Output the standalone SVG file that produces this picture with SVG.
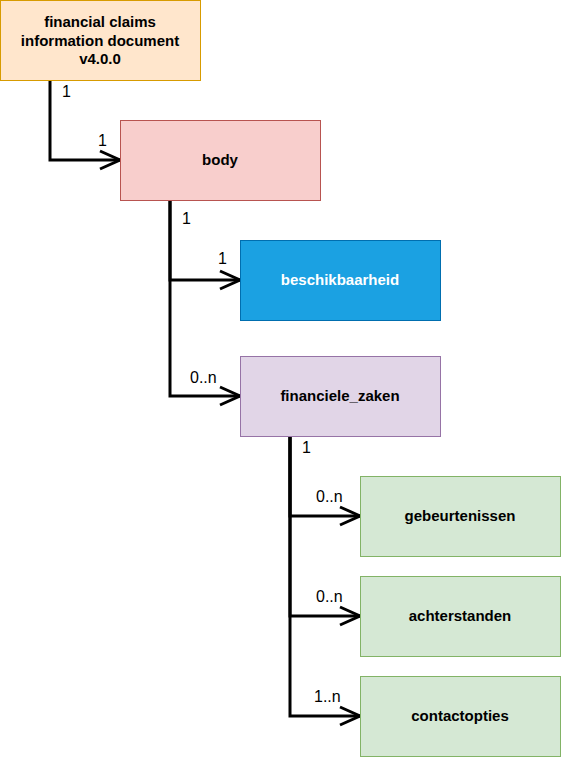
<svg xmlns="http://www.w3.org/2000/svg" width="562" height="758" viewBox="0 0 562 758">
<defs>
<marker id="open" viewBox="-24 -12 28 24" refX="0" refY="0" markerWidth="28" markerHeight="24" markerUnits="userSpaceOnUse" orient="auto" overflow="visible">
<path d="M-20,-9 L0,0 L-20,9" fill="none" stroke="#000" stroke-width="3"/>
</marker>
</defs>
<style>
.node text{font-family:"Liberation Sans",Arial,Helvetica,sans-serif;font-weight:bold;font-size:15px;text-anchor:middle}
.lbl{font-family:"Liberation Sans",Arial,Helvetica,sans-serif;font-size:16px;fill:#000}
.edge{fill:none;stroke:#000;stroke-width:3;marker-end:url(#open)}
</style>
<rect width="562" height="758" fill="#fff"/>
<g id="connectors">
<path class="edge" d="M50,80 V160 H120"/>
<path class="edge" d="M170,200 V280 H240"/>
<path class="edge" d="M170,200 V396 H240"/>
<path class="edge" d="M290,436 V516 H360"/>
<path class="edge" d="M290,436 V616 H360"/>
<path class="edge" d="M290,436 V716 H360"/>
<text class="lbl" x="62" y="97">1</text>
<text class="lbl" x="98" y="146">1</text>
<text class="lbl" x="182" y="224">1</text>
<text class="lbl" x="218" y="264">1</text>
<text class="lbl" x="190" y="383">0..n</text>
<text class="lbl" x="302" y="453">1</text>
<text class="lbl" x="316" y="502">0..n</text>
<text class="lbl" x="316" y="602">0..n</text>
<text class="lbl" x="314" y="702">1..n</text>
</g>
<g id="node-fcid" class="node">
<rect x="0.5" y="0.5" width="200" height="80" fill="#ffe6cc" stroke="#d79b00"/>
<text x="100" y="27">financial claims</text>
<text x="100" y="46">information document</text>
<text x="100" y="64">v4.0.0</text>
</g>
<g id="node-body" class="node">
<rect x="120.5" y="120.5" width="200" height="80" fill="#f8cecc" stroke="#b85450"/>
<text x="220" y="165">body</text>
</g>
<g id="node-beschikbaarheid" class="node">
<rect x="240.5" y="240.5" width="200" height="80" fill="#1ba1e2" stroke="#006eaf"/>
<text x="340" y="285" fill="#fff">beschikbaarheid</text>
</g>
<g id="node-financiele_zaken" class="node">
<rect x="240.5" y="356.5" width="200" height="80" fill="#e1d5e7" stroke="#9673a6"/>
<text x="340" y="401">financiele_zaken</text>
</g>
<g id="node-gebeurtenissen" class="node">
<rect x="360.5" y="476.5" width="200" height="80" fill="#d5e8d4" stroke="#82b366"/>
<text x="460" y="521">gebeurtenissen</text>
</g>
<g id="node-achterstanden" class="node">
<rect x="360.5" y="576.5" width="200" height="80" fill="#d5e8d4" stroke="#82b366"/>
<text x="460" y="621">achterstanden</text>
</g>
<g id="node-contactopties" class="node">
<rect x="360.5" y="676.5" width="200" height="80" fill="#d5e8d4" stroke="#82b366"/>
<text x="460" y="721">contactopties</text>
</g>
</svg>
